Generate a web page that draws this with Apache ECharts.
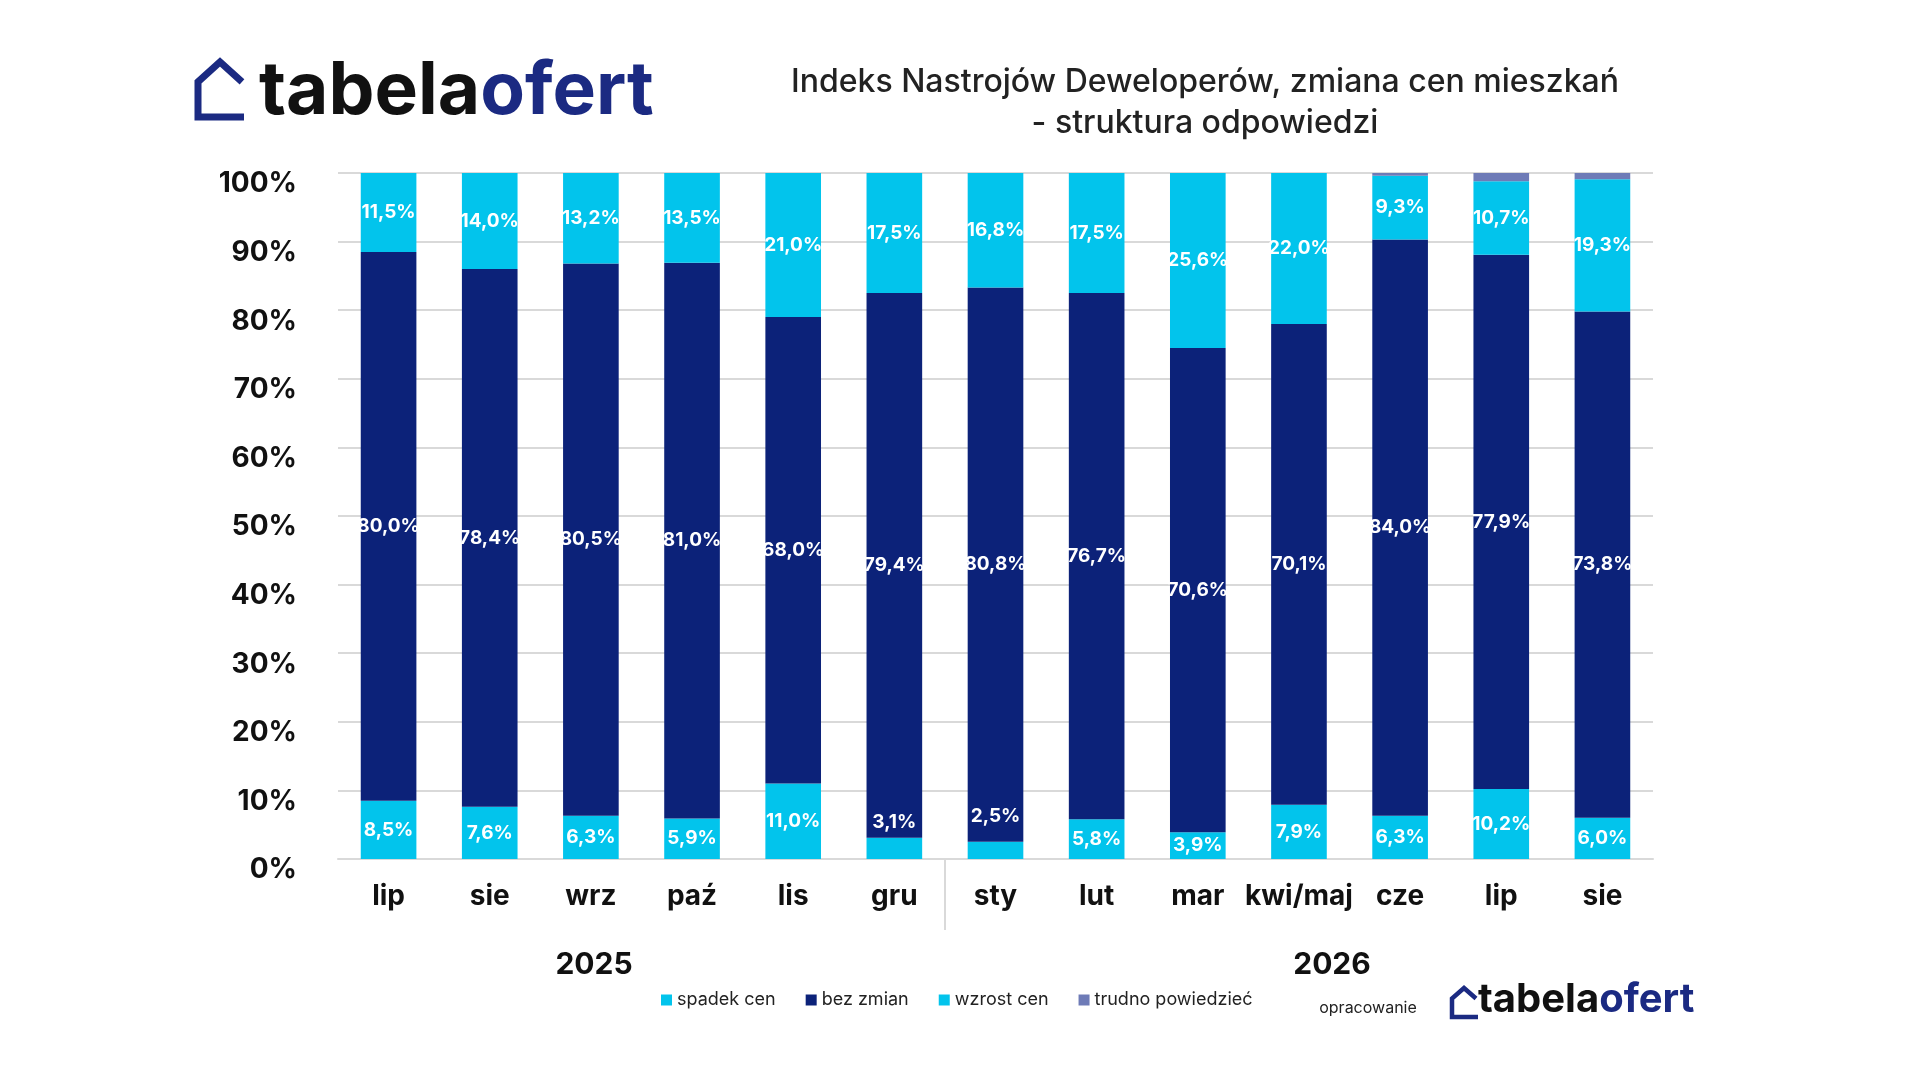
<!DOCTYPE html>
<html>
<head>
<meta charset="utf-8">
<script src="https://cdn.jsdelivr.net/npm/echarts@6/dist/echarts.min.js"></script>
<style>
  html, body { margin: 0; padding: 0; background: #fff; }
  #main { width: 1920px; height: 1080px; }
</style>
</head>
<body>
<div id="main"></div>
<script type="text/javascript">
    var myChart = echarts.init(document.getElementById('main'));

    // dane z wykresu
    var months = ['lip', 'sie', 'wrz', 'paź', 'lis', 'gru', 'sty', 'lut', 'mar', 'kwi/maj', 'cze', 'lip', 'sie'];
    var spadek = [8.5, 7.6, 6.3, 5.9, 11.0, 3.1, 2.5, 5.8, 3.9, 7.9, 6.3, 10.2, 6.0];
    var bezZmian = [80.0, 78.4, 80.5, 81.0, 68.0, 79.4, 80.8, 76.7, 70.6, 70.1, 84.0, 77.9, 73.8];
    var wzrost = [11.5, 14.0, 13.2, 13.5, 21.0, 17.5, 16.8, 17.5, 25.6, 22.0, 9.3, 10.7, 19.3];
    var trudno = [0, 0, 0, 0, 0, 0, 0, 0, 0, 0, 0.4, 1.2, 0.9];
    var years = ['2025', '2026'];

    var cyan = '#02c4ec';
    var navy = '#0c2279';
    var grey = '#6e7bb7';
    var font = 'Inter, "Noto Sans", sans-serif';

    function fmt(v) {
        return v.toFixed(1).replace('.', ',') + '%';
    }

    var labelStyle = {
        show: true,
        position: 'inside',
        color: '#fff',
        fontSize: 19,
        fontWeight: 'bold',
        fontFamily: font,
        formatter: function (p) { return fmt(p.value); }
    };

    // male wartosci nad slupkiem (gru, sty)
    var spadekData = spadek.map(function (v, i) {
        if (i === 5) return { value: v, label: { position: 'top', distance: 6 } };
        if (i === 6) return { value: v, label: { position: 'top', distance: 16 } };
        return v;
    });

    function house(x, y, w, h, lw) {
        return {
            type: 'polyline',
            shape: {
                points: [[x + w, y + h * 0.36], [x + w / 2, y], [x, y + h * 0.36], [x, y + h], [x + w + 2, y + h]]
            },
            style: { stroke: '#1b2a82', lineWidth: lw, fill: null, lineJoin: 'miter' }
        };
    }

    var graphics = [
        house(198, 62, 44, 55, 7),
        {
            type: 'text',
            left: 259,
            top: 56,
            style: {
                text: '{a|tabela}{b|ofert}',
                rich: {
                    a: { fill: '#111', fontSize: 73, fontWeight: 'bold', fontFamily: font },
                    b: { fill: '#1b2a82', fontSize: 73, fontWeight: 'bold', fontFamily: font }
                }
            }
        },
        {
            type: 'text',
            x: 1205,
            y: 82,
            style: {
                text: 'Indeks Nastrojów Deweloperów, zmiana cen mieszkań',
                fill: '#222',
                fontSize: 32,
                fontWeight: 500,
                fontFamily: font,
                align: 'center',
                verticalAlign: 'middle'
            }
        },
        {
            type: 'text',
            x: 1205,
            y: 123,
            style: {
                text: '- struktura odpowiedzi',
                fill: '#222',
                fontSize: 32,
                fontWeight: 500,
                fontFamily: font,
                align: 'center',
                verticalAlign: 'middle'
            }
        },
        {
            type: 'text',
            x: 594,
            y: 965,
            style: {
                text: years[0], fill: '#111', fontSize: 30, fontWeight: 'bold',
                fontFamily: font, align: 'center', verticalAlign: 'middle'
            }
        },
        {
            type: 'text',
            x: 1332,
            y: 965,
            style: {
                text: years[1], fill: '#111', fontSize: 30, fontWeight: 'bold',
                fontFamily: font, align: 'center', verticalAlign: 'middle'
            }
        },
        {
            type: 'text',
            x: 1368,
            y: 1008,
            style: {
                text: 'opracowanie', fill: '#222', fontSize: 16,
                fontFamily: font, align: 'center', verticalAlign: 'middle'
            }
        },
        house(1452, 988, 24, 29, 4.5),
        {
            type: 'text',
            left: 1478,
            top: 980,
            style: {
                text: '{a|tabela}{b|ofert}',
                rich: {
                    a: { fill: '#111', fontSize: 40, fontWeight: 'bold', fontFamily: font },
                    b: { fill: '#1b2a82', fontSize: 40, fontWeight: 'bold', fontFamily: font }
                }
            }
        }
    ];

    var option = {
        backgroundColor: '#fff',
        animation: false,
        textStyle: { fontFamily: font },
        grid: { left: 338, right: 267, top: 173, bottom: 221, containLabel: false },
        legend: {
            left: 656,
            top: 986,
            icon: 'rect',
            itemWidth: 11,
            itemHeight: 11,
            itemGap: 30,
            textStyle: { fontSize: 18, color: '#222', fontFamily: font },
            data: ['spadek cen', 'bez zmian', 'wzrost cen', 'trudno powiedzieć']
        },
        xAxis: [{
            type: 'category',
            data: months,
            axisLine: { show: true, lineStyle: { color: '#d9d9d9', width: 2 } },
            axisTick: { show: false },
            axisLabel: {
                color: '#111',
                fontSize: 28,
                fontWeight: 'bold',
                fontFamily: font,
                margin: 24,
                interval: 0
            }
        }],
        yAxis: [{
            type: 'value',
            min: 0,
            max: 100,
            interval: 10,
            axisLine: { show: false },
            axisTick: { show: false },
            splitLine: { lineStyle: { color: '#d9d9d9', width: 2 } },
            axisLabel: {
                formatter: '{value}%',
                color: '#111',
                fontSize: 28,
                fontWeight: 'bold',
                fontFamily: font,
                margin: 41,
                verticalAlign: 'top',
                lineHeight: 22
            }
        }],
        series: [{
            name: 'spadek cen',
            type: 'bar',
            stack: 'all',
            barWidth: '55%',
            data: spadekData,
            itemStyle: { color: cyan },
            label: labelStyle
        }, {
            name: 'bez zmian',
            type: 'bar',
            stack: 'all',
            data: bezZmian,
            itemStyle: { color: navy },
            label: labelStyle
        }, {
            name: 'wzrost cen',
            type: 'bar',
            stack: 'all',
            data: wzrost,
            itemStyle: { color: cyan },
            label: labelStyle
        }, {
            name: 'trudno powiedzieć',
            type: 'bar',
            stack: 'all',
            data: trudno,
            itemStyle: { color: grey },
            label: { show: false }
        }],
        graphic: graphics
    };

    myChart.setOption(option);

    // pionowa kreska miedzy 2025 i 2026 (granica kategorii gru/sty)
    var xa = myChart.convertToPixel({ xAxisIndex: 0 }, 5);
    var xb = myChart.convertToPixel({ xAxisIndex: 0 }, 6);
    var y0 = myChart.convertToPixel({ yAxisIndex: 0 }, 0);
    var sepX = Math.round((xa + xb) / 2);
    graphics.push({
        type: 'line',
        shape: { x1: sepX, y1: y0, x2: sepX, y2: y0 + 71 },
        style: { stroke: '#d9d9d9', lineWidth: 2 }
    });
    myChart.setOption({ graphic: graphics });
</script>
</body>
</html>
